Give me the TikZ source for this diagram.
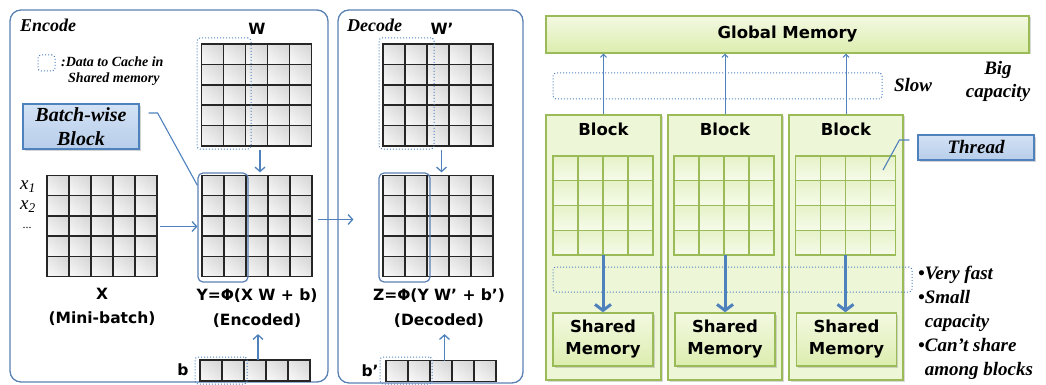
\documentclass[tikz,border=0pt]{standalone}
\usepackage{fontspec}
\setmainfont{Liberation Serif}
\newfontfamily\dvs{DejaVu Sans}
\usetikzlibrary{arrows.meta,shadows,calc}
\definecolor{pblue}{HTML}{5A80B4}
\definecolor{ablue}{HTML}{4F81BD}
\definecolor{lblueA}{HTML}{D3E2F5}
\definecolor{lblueB}{HTML}{B7CDEA}
\definecolor{gborder}{HTML}{9BBB59}
\definecolor{gfillT}{HTML}{F3F9E2}
\definecolor{gfillB}{HTML}{DCEDAE}
\definecolor{blockfill}{HTML}{EEF6D8}
\definecolor{gcellT}{HTML}{E6F2C8}
\definecolor{gcellB}{HTML}{F6FBEA}
\newcommand{\cells}[5]{% node, cols, rows, cw, ch
  \foreach \i in {1,...,#2}{\foreach \j in {1,...,#3}{
    \shade[top color=gray!30, bottom color=gray!8, shading angle=-40]
      ($(#1.north west)+({(\i-1)*#4},{(\j-1)*#5})$) rectangle ++(#4,#5);
  }}
  \foreach \i in {0,...,#2}{\draw[gline] ($(#1.north west)+({\i*#4},0)$) -- ++(0,{#3*#5});}
  \foreach \j in {0,...,#3}{\draw[gline] ($(#1.north west)+(0,{\j*#5})$) -- ++({#2*#4},0);}
}
\newcommand{\gcells}[1]{% node, 4x4 green
  \foreach \i in {1,...,4}{\foreach \j in {1,...,4}{
    \shade[top color=gcellT, bottom color=gcellB]
      ($(#1.north west)+({(\i-1)*25},{(\j-1)*24.75})$) rectangle ++(25,24.75);
  }}
  \foreach \i in {0,...,4}{\draw[greenline] ($(#1.north west)+({\i*25},0)$) -- ++(0,99);}
  \foreach \j in {0,...,4}{\draw[greenline] ($(#1.north west)+(0,{\j*24.75})$) -- ++(100,0);}
}
\tikzset{
  panel/.style={draw=pblue, line width=1.3pt, rounded corners=11pt},
  gline/.style={line width=1.5pt, black!85, line cap=rect},
  greenline/.style={line width=1.4pt, gborder, line cap=rect},
  matnode/.style={inner sep=0, outer sep=0, minimum width=110pt, minimum height=102pt},
  dotbox/.style={draw=ablue, dotted, line width=1pt, rounded corners=3pt, inner sep=0, minimum width=#1},
  solbox/.style={draw=pblue, line width=1.2pt, rounded corners=5pt, inner sep=0, minimum width=50pt, minimum height=109pt},
  arr/.style={draw=ablue, line width=1.3pt, -{Straight Barb[length=4.5pt,width=10pt]}},
  tarr/.style={draw=ablue, line width=1pt, -{Straight Barb[length=3pt,width=6pt]}},
  thick arr/.style={draw=ablue, line width=3pt, -{Straight Barb[length=6pt,width=16pt,line width=3pt]}},
  conn/.style={draw=ablue, line width=1.1pt},
  lbl/.style={font=\dvs\bfseries\fontsize{15.5}{19}\selectfont, inner sep=0},
  itl/.style={font=\bfseries\itshape\fontsize{18}{20}\selectfont, inner sep=0},
  callout/.style={draw=ablue, line width=1.2pt, top color=lblueA, bottom color=lblueB, inner sep=0,
     drop shadow={shadow xshift=2pt, shadow yshift=-2pt, opacity=0.35, fill=gray}},
  gbox/.style={draw=gborder, line width=1.4pt, top color=gfillT, bottom color=gfillB, inner sep=0,
     drop shadow={shadow xshift=1.5pt, shadow yshift=-1.5pt, opacity=0.3, fill=gray}},
  blockbox/.style={draw=gborder, line width=1.4pt, fill=blockfill, inner sep=0,
     drop shadow={shadow xshift=1.5pt, shadow yshift=-1.5pt, opacity=0.3, fill=gray}},
  gtext/.style={font=\dvs\bfseries\fontsize{16.5}{22}\selectfont, align=center, inner sep=0},
}
\begin{document}
\begin{tikzpicture}[x=1pt,y=-1pt]
\useasboundingbox (0,0) rectangle (1046,385);
% ---------- panels
\node[panel, minimum width=318pt, minimum height=372pt, inner sep=0] (enc) at (169,196) {};
\node[panel, minimum width=185pt, minimum height=373pt, inner sep=0] (dec) at (430.5,196.5) {};
\node[itl, anchor=west] (enct) at (20,25) {Encode};
\node[itl, anchor=west] (dect) at (347,25) {Decode};
% legend
\node[dotbox=17pt, minimum height=16pt] (leg) at (46.5,63) {};
\node[font=\bfseries\itshape\fontsize{14}{17}\selectfont, anchor=west, inner sep=0] (legt1) at (61,62) {:Data to Cache in};
\node[font=\bfseries\itshape\fontsize{14}{17}\selectfont, anchor=west, inner sep=0] (legt2) at (68,79) {Shared memory};
% ---------- matrices (encode)
\node[matnode] (W) at (256.5,95) {};
\cells{W}{5}{5}{22}{20.4}
\node[matnode] (X) at (102,226.5) {};
\cells{X}{5}{5}{22}{20.2}
\node[matnode] (Y) at (257,226.5) {};
\cells{Y}{5}{5}{22}{20.2}
\node[inner sep=0, outer sep=0, minimum width=110pt, minimum height=21pt] (b) at (255,370.5) {};
\cells{b}{5}{1}{22}{21}
\node[dotbox=54pt, minimum height=111pt] (Wc) at (224,93.5) {};
\node[solbox] (Yc) at (223,227.5) {};
\node[dotbox=52pt, minimum height=27pt] (bc) at (221,370.5) {};
% labels encode
\node[lbl] (Wl) at (257,29) {W};
\node[lbl] (Xl) at (102,294) {X};
\node[lbl] (mb) at (102,319) {(Mini-batch)};
\node[lbl] (yf) at (257,296) {Y=Φ(X W + b)};
\node[lbl] (encl) at (257,321) {(Encoded)};
\node[lbl] (bl) at (183,370) {b};
\node[font=\itshape\fontsize{19}{20}\selectfont, inner sep=0] (x1) at (28,187) {x\textsubscript{\textit{1}}};
\node[font=\itshape\fontsize{19}{20}\selectfont, inner sep=0] (x2) at (28,207) {x\textsubscript{\textit{2}}};
\node[font=\fontsize{12}{14}\selectfont, inner sep=0] (xd) at (27,228) {...};
% batch-wise callout
\node[callout, minimum width=116pt, minimum height=45pt, align=center,
      font=\bfseries\itshape\fontsize{20}{24}\selectfont] (BB) at (81,126.5) {Batch-wise\\Block};
\coordinate (bbs) at ([xshift=9pt,yshift=13.5pt]BB.east);
\draw[conn] (bbs) -- ++(9,0) -- ([yshift=-13pt]Yc.north west);
% arrows encode
\draw[arr] ([xshift=3.5pt,yshift=-4pt]W.south) -- ([xshift=3.5pt]W.south |- Yc.north);
\draw[arr] ([xshift=3pt]X.east) -- (X.east -| Yc.west);
\draw[arr] ([xshift=3pt]b.north) -- ([xshift=3pt,yshift=-6pt]b.north |- encl.south);
% ---------- decode
\node[matnode] (Wp) at (438,95) {};
\cells{Wp}{5}{5}{22}{20.4}
\node[matnode] (Z) at (438,226.5) {};
\cells{Z}{5}{5}{22}{20.2}
\node[inner sep=0, outer sep=0, minimum width=110pt, minimum height=21pt] (bp) at (441,371) {};
\cells{bp}{5}{1}{22}{21}
\node[dotbox=55pt, minimum height=111pt] (Wpc) at (406.5,93.5) {};
\node[solbox, minimum width=51pt] (Zc) at (404.5,227.5) {};
\node[dotbox=52pt, minimum height=27pt] (bpc) at (406,370.5) {};
\node[lbl] (Wpl) at (442,29) {W’};
\node[lbl] (zf) at (439,296) {Z=Φ(Y W’ + b’)};
\node[lbl] (decl) at (439,321) {(Decoded)};
\node[lbl] (bpl) at (370,371) {b’};
\draw[arr] ([xshift=3.5pt,yshift=-4pt]Wp.south) -- ([xshift=3.5pt]Wp.south |- Zc.north);
\draw[arr] ([xshift=3.5pt]bp.north) -- ([xshift=3.5pt,yshift=-6pt]bp.north |- decl.south);
\coordinate (ya) at ([xshift=6pt,yshift=7pt]Y.east);
\coordinate (za) at ([xshift=-25pt]Zc.west);
\draw[arr] (ya) -- (ya -| za);
% ---------- right side
\node[gbox, minimum width=483pt, minimum height=37pt, font=\dvs\bfseries\fontsize{16.5}{20}\selectfont] (GM) at (787.5,34.5) {Global Memory};
\foreach \n/\cx/\w/\gx/\sx in {1/603.5/115/603/603, 2/725/114/724/725, 3/846/114/845.5/846.5}{
  \node[blockbox, minimum width=\w pt, minimum height=265pt] (B\n) at (\cx,247.5) {};
  \node[gtext] (Bt\n) at (\cx,129) {Block};
  \node[inner sep=0, outer sep=0, minimum width=100pt, minimum height=99pt] (G\n) at (\gx,205.5) {};
  \node[gbox, minimum width=100pt, minimum height=53pt] (S\n) at (\sx,339.5) {};
  \node[gtext] (St\n) at (\sx,339.5) {Shared\\Memory};
}
\gcells{G1}\gcells{G2}\gcells{G3}
\draw[tarr] (B1.north) -- (B1.north |- GM.south);
\draw[tarr] (B2.north) -- (B2.north |- GM.south);
\draw[tarr] (B3.north) -- (B3.north |- GM.south);
\draw[thick arr] (G1.south) -- (G1.south |- S1.north);
\draw[thick arr] ([xshift=1pt]G2.south) -- ([xshift=1pt]G2.south |- S2.north);
\draw[thick arr] (G3.south) -- (G3.south |- S3.north);
\node[dotbox=329pt, minimum height=26pt] (slowbox) at (717.5,86) {};
\node[dotbox=359pt, minimum height=25pt] (fastbox) at (732.5,279.5) {};
\node[font=\bfseries\itshape\fontsize{19}{23}\selectfont, inner sep=0] (slow) at (913,85) {Slow};
\node[font=\bfseries\itshape\fontsize{19}{23}\selectfont, inner sep=0, align=center] (big) at (998,81.5) {Big\\capacity};
\node[callout, minimum width=116pt, minimum height=25pt, font=\bfseries\itshape\fontsize{19}{22}\selectfont] (TH) at (976,147.5) {Thread};
\coordinate (thp) at (883,170);
\draw[conn] ([xshift=-8pt,yshift=7.5pt]TH.west) -- ++(-10,0) -- (thp);
\node[font=\bfseries\itshape\fontsize{19}{24}\selectfont, inner sep=0, align=left, anchor=north west] (bul) at (918,266)
  {•Very fast\\•Small\\\phantom{•}capacity\\•Can’t share\\\phantom{•}among blocks};
\end{tikzpicture}
\end{document}
